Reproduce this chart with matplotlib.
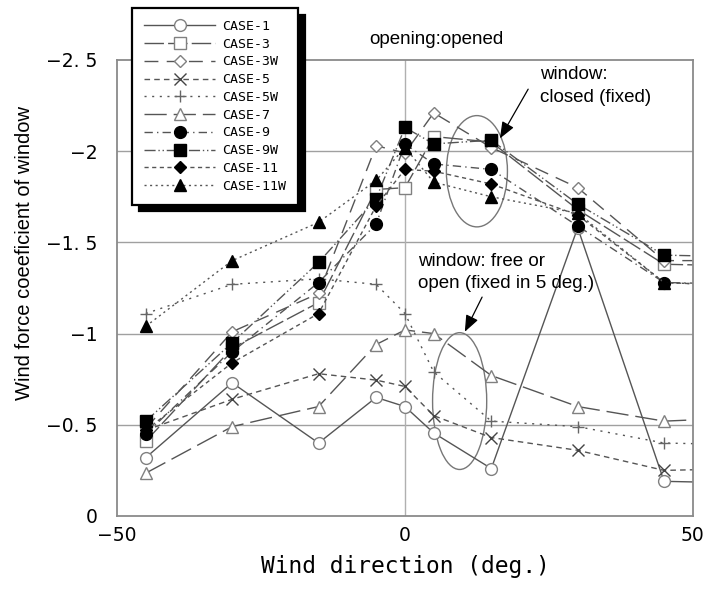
import matplotlib
matplotlib.use("Agg")
import matplotlib.pyplot as plt
from matplotlib.patches import Ellipse
import numpy as np

# wind direction (deg.); last point sits outside the axis range, lines run off the frame
directions = [-45, -30, -15, -5, 0, 5, 15, 30, 45, 60]

case_1 = [-0.32, -0.73, -0.40, -0.65, -0.60, -0.455, -0.26, -1.58, -0.19, -0.18]
case_3 = [-0.41, -0.92, -1.17, -1.79, -1.80, -2.08, -2.05, -1.68, -1.38, -1.37]
case_3w = [-0.48, -1.01, -1.22, -2.03, -1.99, -2.21, -2.02, -1.80, -1.40, -1.40]
case_5 = [-0.47, -0.64, -0.78, -0.745, -0.71, -0.55, -0.43, -0.36, -0.25, -0.26]
case_5w = [-1.11, -1.27, -1.30, -1.27, -1.11, -0.79, -0.52, -0.49, -0.40, -0.39]
case_7 = [-0.235, -0.49, -0.60, -0.94, -1.02, -1.00, -0.77, -0.60, -0.52, -0.54]
case_9 = [-0.45, -0.90, -1.28, -1.60, -2.04, -1.93, -1.90, -1.59, -1.28, -1.27]
case_9w = [-0.52, -0.95, -1.39, -1.74, -2.13, -2.04, -2.06, -1.71, -1.43, -1.42]
case_11 = [-0.47, -0.84, -1.11, -1.70, -1.90, -1.89, -1.82, -1.65, -1.28, -1.26]
case_11w = [-1.04, -1.40, -1.61, -1.84, -2.02, -1.83, -1.75, -1.66, -1.28, -1.26]

labels = ["CASE-1", "CASE-3", "CASE-3W", "CASE-5", "CASE-5W",
          "CASE-7", "CASE-9", "CASE-9W", "CASE-11", "CASE-11W"]

y_ticks = [0, -0.5, -1, -1.5, -2, -2.5]
x_ticks = [-50, 0, 50]

line_col = "#555555"
open_col = "#808080"

styles = [
    dict(ls="-", marker="o", mfc="white", mec=open_col),
    dict(ls=(0, (14, 3)), marker="s", mfc="white", mec=open_col),
    dict(ls=(0, (10, 6)), marker="D", mfc="white", mec=open_col, ms=6.5),
    dict(ls=(0, (4, 3)), marker="x", mec="#444444", ms=8),
    dict(ls=(0, (1.5, 4)), marker="+", mec="#666666", ms=9),
    dict(ls=(0, (16, 5)), marker="^", mfc="white", mec=open_col),
    dict(ls=(0, (6, 3, 1, 3)), marker="o", mfc="black", mec="black"),
    dict(ls=(0, (8, 2, 1, 2, 1, 2)), marker="s", mfc="black", mec="black"),
    dict(ls=(0, (3, 2.5)), marker="D", mfc="black", mec="black", ms=6.5),
    dict(ls=(0, (1.5, 2.5)), marker="^", mfc="black", mec="black"),
]

series = [case_1, case_3, case_3w, case_5, case_5w,
          case_7, case_9, case_9w, case_11, case_11w]

fig = plt.figure(figsize=(7.07, 5.95), dpi=100)
ax = fig.add_axes([0.1655, 0.1328, 0.8145, 0.7664])

for vals, lab, st in zip(series, labels, styles):
    kw = dict(color=line_col, lw=1.0, ms=8.5, mew=1.0)
    kw.update(st)
    ax.plot(directions, vals, label=lab, clip_on=True, **kw)

ax.set_xlim(-50, 50)
ax.set_ylim(0, -2.5)

ax.set_xticks(x_ticks)
ax.set_yticks(y_ticks)
ax.set_xticklabels([f"{v:g}".replace("-", "\u2212") for v in x_ticks])
ax.set_yticklabels([f"{v:g}".replace("-", "\u2212").replace(".", ". ") for v in y_ticks])
ax.tick_params(labelsize=13.5, length=0)
ax.tick_params(axis="y", pad=14)
ax.tick_params(axis="x", pad=7)

for v in y_ticks[1:-1]:
    ax.axhline(v, color="#a0a0a0", lw=1.0, zorder=0)
ax.axvline(0, color="#b0b0b0", lw=1.0, zorder=0)
for sp in ax.spines.values():
    sp.set_color("#8a8a8a")
    sp.set_linewidth(1.3)

# outlines around the two groups
ax.add_patch(Ellipse((12.5, -1.89), 10.6, 0.61, fill=False, ec="#777777", lw=1.0))
ax.add_patch(Ellipse((9.5, -0.63), 9.4, 0.75, fill=False, ec="#777777", lw=1.0))

arrow = dict(arrowstyle="-|>,head_length=1.0,head_width=0.4", color="black",
             lw=0.9, shrinkA=0, shrinkB=0)
ax.annotate("", xy=(16.5, -2.07), xytext=(21.4, -2.34), arrowprops=arrow)
ax.annotate("", xy=(10.4, -1.01), xytext=(13.4, -1.20), arrowprops=arrow)

txt = dict(fontsize=13.5, family="Liberation Sans", va="center", ha="left")
ax.text(23.4, -2.42, "window:", **txt)
ax.text(23.4, -2.295, "closed (fixed)", **txt)
ax.text(2.3, -1.393, "window: free or", **txt)
ax.text(2.3, -1.272, "open (fixed in 5 deg.)", **txt)

fig.text(436 / 707, 1 - 40 / 595, "opening:opened", fontsize=13.5,
         family="Liberation Sans", ha="center", va="center")
fig.text(25 / 707, 1 - 253 / 595, "Wind force coeeficient of window", fontsize=14.5,
         family="Liberation Sans", rotation=90, ha="center", va="center")
fig.text(405 / 707, 1 - 566 / 595, "Wind direction (deg.)", fontsize=16.5,
         family="DejaVu Sans Mono", ha="center", va="center")

leg = ax.legend(loc="upper left", bbox_to_anchor=(132 / 707, 1 - 8 / 595),
                bbox_transform=fig.transFigure, borderaxespad=0, fancybox=False,
                shadow={"color": "black", "alpha": 1.0, "ox": 5, "oy": -5},
                frameon=True, handlelength=5.4, labelspacing=0.36,
                prop={"family": "DejaVu Sans Mono", "size": 9.5},
                borderpad=0.9, handletextpad=0.5)
leg.get_frame().set_edgecolor("black")
leg.get_frame().set_linewidth(1.6)
leg.set_zorder(10)

fig.savefig("out.png", dpi=100)
